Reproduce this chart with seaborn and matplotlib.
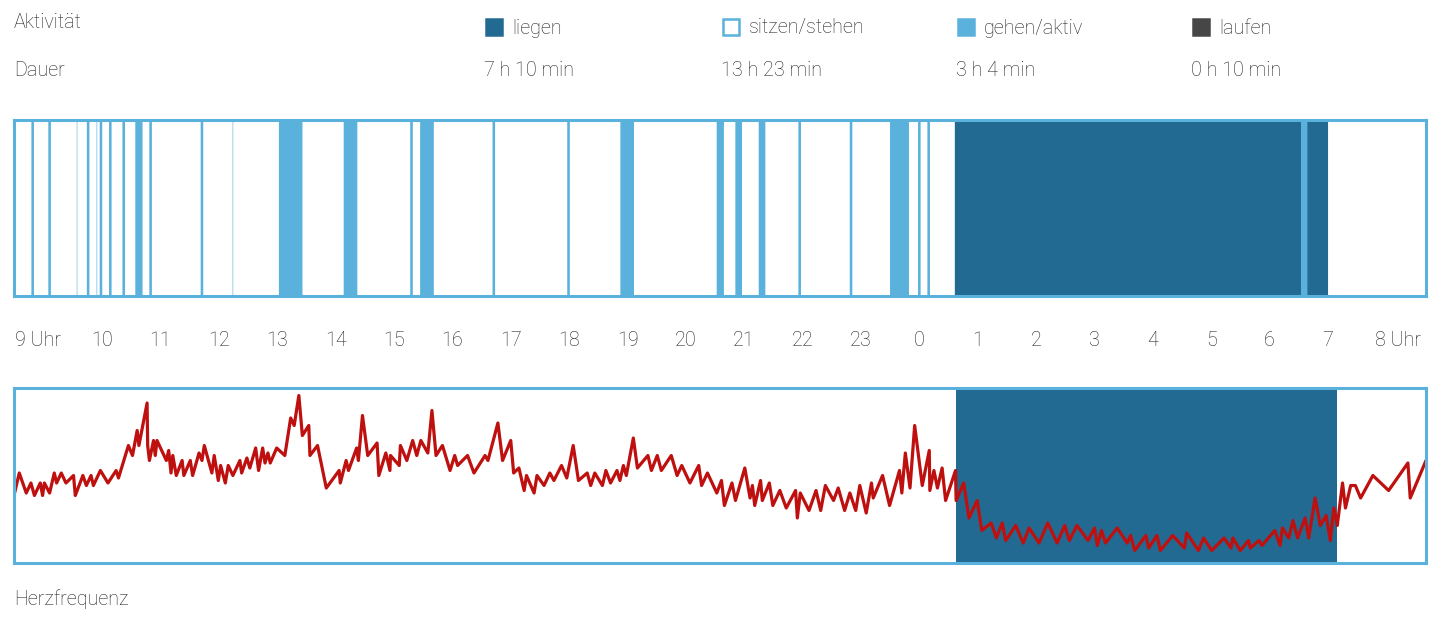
import matplotlib
matplotlib.use("Agg")
import matplotlib.pyplot as plt
from matplotlib.patches import Rectangle
from matplotlib.transforms import ScaledTranslation
import pandas as pd
import seaborn as sns

# ------------------------------------------------------------
# Daten
# ------------------------------------------------------------
categories = ["liegen", "sitzen/stehen", "gehen/aktiv", "laufen"]
durations = ["7 h 10 min", "13 h 23 min", "3 h 4 min", "0 h 10 min"]
cat_colors = ["#226a91", "#ffffff", "#5ab1dc", "#464646"]

# Zeitachse in Stunden (24 = Mitternacht, 32 = 8 Uhr am Folgetag)
hour_ticks = list(range(9, 33))
hour_labels = ["9 Uhr", "10", "11", "12", "13", "14", "15", "16", "17", "18",
               "19", "20", "21", "22", "23", "0", "1", "2", "3", "4", "5",
               "6", "7", "8 Uhr"]
t_start, t_end = 8.49, 32.68

# Aktivitaets-Segmente (alles andere = sitzen/stehen)
seg_start = [8.80, 9.09, 9.565, 9.75, 9.905, 9.97, 10.13, 10.36, 10.58, 10.82,
             11.70, 12.235, 13.04, 14.15, 15.29, 15.46, 16.70, 17.98, 18.89,
             20.54, 20.86, 21.26, 21.94, 22.82, 23.51, 23.99, 24.15,
             24.62, 30.55, 30.66]
seg_end = [8.82, 9.11, 9.575, 9.77, 9.915, 9.99, 10.15, 10.38, 10.68, 10.84,
           11.72, 12.245, 13.42, 14.36, 15.31, 15.67, 16.72, 18.00, 19.10,
           20.64, 20.95, 21.35, 21.96, 22.84, 23.81, 24.01, 24.17,
           30.55, 30.66, 30.99]
seg_kind = ["gehen/aktiv"] * 27 + ["liegen", "gehen/aktiv", "liegen"]

# Herzfrequenz
sleep_start, sleep_end = 24.63, 31.16
hr_time = [
    8.49, 8.58, 8.70, 8.78, 8.84, 8.94, 8.98, 9.01, 9.10, 9.18, 9.22, 9.30,
    9.38, 9.51, 9.54, 9.67, 9.73, 9.81, 9.85, 9.97, 10.10, 10.24, 10.28,
    10.45, 10.52, 10.60, 10.63, 10.77, 10.78, 10.81, 10.88, 10.91, 10.94,
    11.10, 11.14, 11.18, 11.21, 11.27, 11.37, 11.40, 11.51, 11.55, 11.66,
    11.71, 11.75, 11.88, 11.92, 11.99, 12.03, 12.11, 12.16, 12.24, 12.36,
    12.39, 12.48, 12.53, 12.63, 12.68, 12.75, 12.79, 12.84, 12.88, 12.99,
    13.13, 13.23, 13.29, 13.37, 13.43, 13.54, 13.56, 13.69, 13.84, 14.06,
    14.08, 14.18, 14.22, 14.36, 14.39, 14.46, 14.55,
    14.71, 14.74, 14.86, 14.93, 14.94, 15.09, 15.11, 15.22, 15.32, 15.39,
    15.46, 15.58, 15.65, 15.72, 15.83, 15.96, 16.04, 16.09, 16.26, 16.37,
    16.56, 16.61, 16.78, 16.86, 17.00, 17.05, 17.14, 17.23, 17.27, 17.40,
    17.45, 17.57, 17.67, 17.74, 17.87, 17.96, 18.07, 18.16, 18.31, 18.37,
    18.44, 18.57, 18.63, 18.71, 18.82, 18.87, 18.93, 18.98, 19.10, 19.17,
    19.35, 19.41, 19.51, 19.58, 19.75, 19.85, 19.93, 20.07, 20.22, 20.27,
    20.37, 20.53, 20.61,
    20.66, 20.79, 20.85, 21.01, 21.10, 21.14, 21.18, 21.28, 21.31, 21.43,
    21.49, 21.61, 21.72, 21.88, 21.91, 21.96, 22.11, 22.23, 22.31, 22.39,
    22.53, 22.61, 22.72, 22.81, 22.91, 22.98, 23.09, 23.18, 23.21, 23.37,
    23.49, 23.66, 23.70, 23.76, 23.84, 23.92, 24.05, 24.17, 24.18, 24.25,
    24.31, 24.39, 24.45, 24.62, 24.63, 24.76, 24.85, 24.99, 25.07, 25.23,
    25.32, 25.42, 25.48, 25.65, 25.78, 25.88, 26.05, 26.20, 26.36, 26.49,
    26.57,
    26.70, 26.89, 27.00, 27.05, 27.12, 27.19, 27.39, 27.56, 27.62, 27.69,
    27.88, 27.93, 28.07, 28.13, 28.34, 28.54, 28.58, 28.78, 28.87, 29.01,
    29.22, 29.34, 29.37, 29.50, 29.64, 29.67, 29.82, 29.87, 30.09, 30.18,
    30.22, 30.33, 30.40, 30.48, 30.61, 30.67, 30.78, 30.87, 30.97, 31.04,
    31.10, 31.16, 31.25, 31.30, 31.39, 31.47, 31.56, 31.77, 32.04, 32.37,
    32.41, 32.68]
hr_bpm = [
    67, 76, 68, 72, 67, 72, 67, 72, 68, 76, 72, 76, 72, 75, 67, 75, 71, 75,
    71, 77, 72, 77, 74, 87, 83, 93, 87, 104, 87, 81, 89, 83, 89, 81, 85, 76,
    83, 75, 81, 75, 81, 75, 84, 81, 87, 76, 83, 73, 79, 72, 79, 75, 81, 76,
    82, 78, 86, 77, 86, 80, 84, 80, 86, 83, 98, 95, 107, 91, 95, 83, 87, 70,
    77, 72, 81, 77, 86, 81, 99, 83,
    88, 75, 84, 77, 83, 79, 87, 81, 89, 83, 89, 84, 101, 83, 87, 77, 83, 79,
    83, 76, 83, 81, 96, 81, 89, 76, 78, 69, 75, 68, 75, 71, 76, 73, 79, 74,
    87, 73, 76, 71, 76, 71, 77, 72, 77, 73, 79, 75, 90, 78, 83, 77, 83, 77,
    83, 75, 79, 72, 79, 71, 76, 68, 73,
    63, 72, 65, 78, 66, 71, 63, 73, 65, 72, 63, 69, 62, 69, 58, 68, 61, 69,
    61, 71, 65, 70, 61, 68, 61, 71, 60, 72, 66, 75, 63, 77, 68, 84, 70, 95,
    71, 85, 69, 77, 70, 78, 65, 77, 65, 72, 58, 65, 53, 56, 50, 56, 49, 55,
    48, 54, 48, 56, 48, 55, 49,
    55, 49, 54, 47, 53, 48, 54, 48, 51, 45, 51, 46, 51, 45, 51, 46, 52, 45,
    50, 45, 50, 46, 50, 45, 49, 46, 49, 47, 53, 47, 54, 50, 57, 50, 58, 50,
    66, 55, 59, 49, 62, 55, 72, 62, 71, 71, 66, 75, 69, 80, 66, 81]

# ------------------------------------------------------------
# Stil
# ------------------------------------------------------------
sns.set_style("white")
plt.rcParams["font.family"] = ["Roboto", "DejaVu Sans"]
plt.rcParams["font.weight"] = "light"
text_color = "#222222"
frame_color = "#5ab1dc"
fs = 14.2
color_map = dict(zip(categories, cat_colors))

W, H = 1440, 617
fig = plt.figure(figsize=(W / 100, H / 100), dpi=100)


def fx(px):
    return px / W


def fy(py):
    return 1 - py / H


# ------------------------------------------------------------
# Aktivitaetsbalken
# ------------------------------------------------------------
ax1 = fig.add_axes([fx(14), fy(296), fx(1412), 176 / H])
df_seg = pd.DataFrame({"start": seg_start, "end": seg_end, "kind": seg_kind})
df_seg["dur"] = df_seg["end"] - df_seg["start"]
colors = df_seg["kind"].map(color_map).tolist()
# sehr kurze Ereignisse nur als feine Linie
lws = [1.0 if d > 0.012 else 0.0 for d in df_seg["dur"]]
ax1.barh(0.5, df_seg["dur"], left=df_seg["start"], height=1,
         color=colors, edgecolor=colors, linewidth=lws, snap=False)
ax1.set_xlim(t_start, t_end)
ax1.set_ylim(0, 1)
ax1.set_yticks([])
ax1.set_xticks(hour_ticks)
ax1.set_xticklabels(hour_labels, fontsize=fs, color=text_color)
ax1.tick_params(axis="x", length=0, pad=25)
# die beiden "Uhr"-Beschriftungen etwas nach aussen ruecken
tl = ax1.get_xticklabels()
tl[0].set_transform(tl[0].get_transform()
                    + ScaledTranslation(-0.06, 0, fig.dpi_scale_trans))
tl[-1].set_transform(tl[-1].get_transform()
                     + ScaledTranslation(0.12, 0, fig.dpi_scale_trans))

# ------------------------------------------------------------
# Herzfrequenz
# ------------------------------------------------------------
ax2 = fig.add_axes([fx(14), fy(563), fx(1412), 175 / H])
ax2.axvspan(sleep_start, sleep_end, color=color_map["liegen"], lw=0)
df_hr = pd.DataFrame({"time": hr_time, "bpm": hr_bpm})
sns.lineplot(data=df_hr, x="time", y="bpm", ax=ax2, color="#bf1010",
             linewidth=2.3, sort=False, estimator=None)
ax2.set_xlim(t_start, t_end)
ax2.set_ylim(40, 110)
ax2.set_xticks([])
ax2.set_yticks([])
ax2.set_xlabel("")
ax2.set_ylabel("")

for ax in (ax1, ax2):
    for sp in ax.spines.values():
        sp.set_visible(True)
        sp.set_color(frame_color)
        sp.set_linewidth(2.2)

# ------------------------------------------------------------
# Legende und Beschriftungen
# ------------------------------------------------------------
fig.text(fx(14), fy(23), "Aktivität", fontsize=fs, color=text_color, va="center")
fig.text(fx(14), fy(71), "Dauer", fontsize=fs, color=text_color, va="center")
fig.text(fx(14), fy(599), "Herzfrequenz", fontsize=fs, color=text_color,
         va="center")

legend_x = [485, 722, 957, 1192]
for x0, cat, dur in zip(legend_x, categories, durations):
    face = color_map[cat]
    edge = frame_color if cat == "sitzen/stehen" else face
    fig.add_artist(Rectangle((fx(x0 + 1), fy(35)), fx(16), 16 / H,
                             transform=fig.transFigure, facecolor=face,
                             edgecolor=edge, linewidth=1.8))
    fig.text(fx(x0 + 27), fy(28), cat, fontsize=fs, color=text_color,
             va="center")
    fig.text(fx(x0 - 1), fy(71), dur, fontsize=fs, color=text_color,
             va="center")

fig.savefig("out.png", dpi=100)
